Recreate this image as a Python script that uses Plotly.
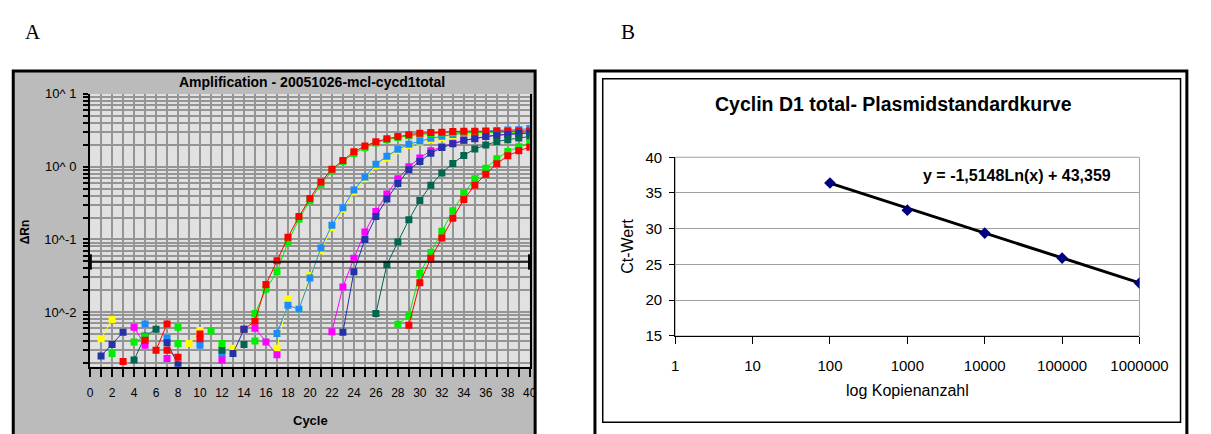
import plotly.graph_objects as go

W, H = 1211, 434
N = None

# ---------------- Panel A data (Delta Rn per cycle, None = not shown / <=0) -------------
cycles = list(range(1, 41))

yellow = [0.0043, 0.0079, N, N, N, N, N, N, 0.0037, 0.0056, N, 0.0033, 0.0032, N, N, N,
          0.0032, 0.0152, 0.0108, 0.032, 0.070, 0.145, 0.26, 0.45, 0.68, 1.02, 1.32, 1.65,
          1.95, 2.18, 2.35, 2.50, 2.62, 2.72, 2.80, 2.85, 2.88, 2.90, 2.92, 2.95]
lightblue = [N, N, N, N, 0.0069, N, 0.0044, N, N, 0.0035, N, 0.0027, N, N, N, N,
             0.0051, 0.0124, 0.0110, 0.0295, 0.076, 0.157, 0.273, 0.478, 0.72, 1.08, 1.39, 1.73,
             2.04, 2.26, 2.45, 2.62, 2.78, 2.90, 3.00, 3.10, 3.15, 3.20, 3.22, 3.35]
green1 = [N, N, N, N, N, N, N, 0.0062, N, N, 0.0055, N, N, N, 0.0096, 0.0206,
          0.036, 0.092, 0.19, 0.34, 0.57, 0.87, 1.18, 1.52, 1.82, 2.12, 2.35, 2.52,
          2.66, 2.78, 2.85, 2.90, 2.92, 2.95, 2.96, 2.97, 2.98, 2.98, 2.99, 3.00]
red1 = [N, N, 0.0021, N, N, 0.0030, 0.0069, N, N, 0.0050, N, N, N, 0.0058, 0.0075, 0.024,
        0.051, 0.107, 0.206, 0.365, 0.617, 0.92, 1.22, 1.60, 1.92, 2.20, 2.42, 2.60,
        2.74, 2.88, 2.96, 2.98, 3.05, 3.08, 3.08, 3.06, 3.08, 3.08, 3.10, 3.10]
magenta = [N, N, N, 0.0062, 0.0035, N, 0.0023, N, N, N, N, 0.0022, N, N, 0.0060, 0.0039,
           0.0026, N, N, N, N, 0.0054, 0.0222, 0.055, 0.126, 0.242, 0.42, 0.68,
           1.00, 1.32, 1.65, 1.88, 2.10, 2.30, 2.45, 2.60, 2.72, 2.80, 2.85, 2.90]
navy = [0.0025, 0.0036, 0.0053, N, N, N, 0.0038, 0.0019, N, N, N, N, 0.0027, 0.0058, N, N,
        N, N, N, N, N, N, 0.0053, 0.036, 0.10, 0.206, 0.36, 0.585,
        0.91, 1.18, 1.53, 1.83, 2.06, 2.30, 2.42, 2.60, 2.70, 2.80, 2.85, 2.90]
teal = [N, N, N, 0.0022, 0.0047, 0.0058, N, N, N, N, N, 0.0030, N, 0.0036, N, N,
        N, N, N, N, N, N, N, N, N, 0.0096, 0.045, 0.092,
        0.187, 0.343, 0.557, 0.82, 1.11, 1.43, 1.75, 1.98, 2.22, 2.35, 2.47, 2.60]
green2 = [N, 0.0027, N, 0.0039, 0.0046, N, N, 0.0037, N, N, N, 0.0037, N, N, 0.0040, N,
          N, N, N, N, N, N, N, N, N, N, N, 0.0068,
          0.0089, 0.034, 0.066, 0.13, 0.248, 0.43, 0.68, 0.95, 1.29, 1.62, 1.88, 2.13]
red2 = [N, N, N, N, 0.0041, N, 0.0030, 0.0024, N, 0.0043, N, N, N, N, N, N,
        N, N, N, N, N, N, N, N, N, N, N, N,
        0.0066, 0.0253, 0.055, 0.105, 0.196, 0.353, 0.557, 0.79, 1.10, 1.41, 1.65, 1.85]

series_A = [
    ("yellow", yellow, "#ffff00"),
    ("lightblue", lightblue, "#1a8cff"),
    ("green1", green1, "#00ee00"),
    ("red1", red1, "#ff0000"),
    ("magenta", magenta, "#ff00ff"),
    ("navy", navy, "#2233aa"),
    ("teal", teal, "#00664f"),
    ("green2", green2, "#00ee00"),
    ("red2", red2, "#ff0000"),
]
threshold = 0.049
cycle_range = [0, 40]
decade_labels = {0.01: "10^-2", 0.1: "10^-1", 1.0: "10^ 0", 10.0: "10^ 1"}

# ---------------- Panel B data -------------
copies = [100, 1000, 10000, 100000, 1000000]
ct_values = [36.4, 32.6, 29.4, 25.9, 22.4]
slope, intercept = -1.5148, 43.359
b_xticks = [1, 10, 100, 1000, 10000, 100000, 1000000]
b_yticks = [15, 20, 25, 30, 35, 40]


def px(x):
    return x / W


def py(y):
    return 1 - y / H


fig = go.Figure()

# Panel A traces
for name, vals, col in series_A:
    fig.add_trace(go.Scatter(
        x=cycles, y=vals, mode="lines+markers", name=name,
        line=dict(color=col, width=1),
        marker=dict(symbol="square", size=7, color=col, line=dict(width=0)),
        xaxis="x", yaxis="y", showlegend=False, connectgaps=False))

fig.add_trace(go.Scatter(
    x=cycle_range, y=[threshold, threshold], mode="lines+markers",
    line=dict(color="black", width=1.5),
    marker=dict(symbol="line-ns", size=11, line=dict(color="black", width=3.5)),
    xaxis="x", yaxis="y", showlegend=False, cliponaxis=False))

# Panel B traces
import math
trend_x = [copies[0], copies[-1]]
trend_y = [slope * math.log(v) + intercept for v in trend_x]
fig.add_trace(go.Scatter(x=trend_x, y=trend_y, mode="lines",
                         line=dict(color="black", width=3),
                         xaxis="x2", yaxis="y2", showlegend=False))
fig.add_trace(go.Scatter(x=copies, y=ct_values, mode="markers",
                         marker=dict(symbol="diamond", size=9, color="#000080"),
                         xaxis="x2", yaxis="y2", showlegend=False))

# Axes geometry (pixels)
A_x0, A_x1, A_y0, A_y1 = 88.5, 540.5, 88.4, 372.3
B_x0, B_x1, B_y0, B_y1 = 690, 1167.3, 154.3, 340.3

a_yticks = []
for e in range(-3, 1):
    for k in range(1, 10):
        v = k * 10 ** e
        if v >= 0.0018:
            a_yticks.append(v)
a_yticks.append(10.0)
a_ytext = [decade_labels.get(round(v, 6), "") for v in a_yticks]

a_xticks = list(range(cycle_range[0], cycle_range[1] + 1))
a_xtext = [str(c) if c % 2 == 0 else "" for c in a_xticks]

fontA = "Liberation Sans, Arial, sans-serif"
fontB = "Liberation Sans, Arial, sans-serif"

fig.update_layout(
    width=W, height=H, margin=dict(l=0, r=0, t=0, b=0),
    paper_bgcolor="white", plot_bgcolor="rgba(0,0,0,0)",
    xaxis=dict(domain=[px(A_x0), px(A_x1)], range=cycle_range, anchor="y",
               tickmode="array", tickvals=a_xticks, ticktext=a_xtext,
               ticks="outside", ticklen=8, tickwidth=1.5, tickcolor="black",
               showgrid=True, gridcolor="#959595", gridwidth=2,
               showline=True, linecolor="black", linewidth=2, zeroline=False,
               tickfont=dict(family=fontA, size=12, color="black"),
               ticklabelstandoff=6),
    yaxis=dict(domain=[py(A_y1), py(A_y0)], type="log", range=[-2.75, 1], anchor="x",
               tickmode="array", tickvals=a_yticks, ticktext=a_ytext,
               ticks="outside", ticklen=5, tickwidth=1.5, tickcolor="black",
               showgrid=True, gridcolor="#959595", gridwidth=2,
               showline=True, linecolor="black", linewidth=2, mirror=True, zeroline=False,
               tickfont=dict(family=fontA, size=13, color="black"),
               ticklabelstandoff=4),
    xaxis2=dict(domain=[px(B_x0), px(B_x1)], type="log", range=[0, 6], anchor="y2",
                tickmode="array", tickvals=b_xticks, ticktext=[str(v) for v in b_xticks],
                ticks="outside", ticklen=7, tickcolor="black", tickwidth=1.2,
                showgrid=False, showline=True, linecolor="black", linewidth=1.2,
                zeroline=False,
                tickfont=dict(family=fontB, size=15, color="black"),
                ticklabelstandoff=9),
    yaxis2=dict(domain=[py(B_y1), py(B_y0)], range=[15, 40], anchor="x2",
                tickmode="array", tickvals=b_yticks,
                ticks="outside", ticklen=5, tickcolor="black", tickwidth=1.2,
                showgrid=True, gridcolor="#a0a0a0", gridwidth=1,
                showline=True, linecolor="black", linewidth=1.2, zeroline=False,
                tickfont=dict(family=fontB, size=15, color="black"),
                ticklabelstandoff=4),
)

shapes = [
    # Panel A outer gray frame
    dict(type="rect", xref="paper", yref="paper", x0=px(9.5), x1=px(546), y0=py(64.5), y1=py(470),
         fillcolor="#bbbbbb", line=dict(color="black", width=3), layer="below"),
    # Panel A plot background
    dict(type="rect", xref="paper", yref="paper", x0=px(A_x0), x1=px(A_x1), y0=py(A_y1), y1=py(A_y0),
         fillcolor="#e1e1e1", line=dict(width=0), layer="below"),
    # Panel B frames
    dict(type="rect", xref="paper", yref="paper", x0=px(607.5), x1=px(1216), y0=py(64.5), y1=py(470),
         fillcolor="white", line=dict(color="black", width=3), layer="below"),
    dict(type="rect", xref="paper", yref="paper", x0=px(615.5), x1=px(1209.5), y0=py(72.5), y1=py(430),
         fillcolor="rgba(0,0,0,0)", line=dict(color="black", width=1.5), layer="below"),
    # Panel B plot area border
    dict(type="rect", xref="paper", yref="paper", x0=px(B_x0), x1=px(B_x1), y0=py(B_y1), y1=py(B_y0),
         fillcolor="rgba(0,0,0,0)", line=dict(color="#a0a0a0", width=1), layer="below"),
]
fig.update_layout(shapes=shapes)

ann = [
    dict(text="A", x=px(30), y=py(24), font=dict(family="Liberation Serif, Times New Roman, serif", size=21)),
    dict(text="B", x=px(641), y=py(24), font=dict(family="Liberation Serif, Times New Roman, serif", size=21)),
    dict(text="<b>Amplification - 20051026-mcl-cycd1total</b>", x=px(317), y=py(76),
         font=dict(family=fontA, size=14)),
    dict(text="<b>ΔRn</b>", x=px(22), y=py(232), textangle=-90, font=dict(family=fontA, size=12)),
    dict(text="<b>Cycle</b>", x=px(315), y=py(428), font=dict(family=fontA, size=13)),
    dict(text="<b>Cyclin D1 total- Plasmidstandardkurve</b>", x=px(914), y=py(99),
         font=dict(family=fontB, size=19.5)),
    dict(text="<b>y = -1,5148Ln(x) + 43,359</b>", x=px(1041), y=py(173),
         font=dict(family=fontB, size=16)),
    dict(text="log Kopienanzahl", x=px(928.5), y=py(397), font=dict(family=fontB, size=16)),
    dict(text="Ct-Wert", x=px(641), y=py(247), textangle=-90, font=dict(family=fontB, size=16)),
]
for a in ann:
    a.update(xref="paper", yref="paper", showarrow=False, xanchor="center", yanchor="middle")
    a["font"]["color"] = "black"
fig.update_layout(annotations=ann)

fig.write_html("out.html")
